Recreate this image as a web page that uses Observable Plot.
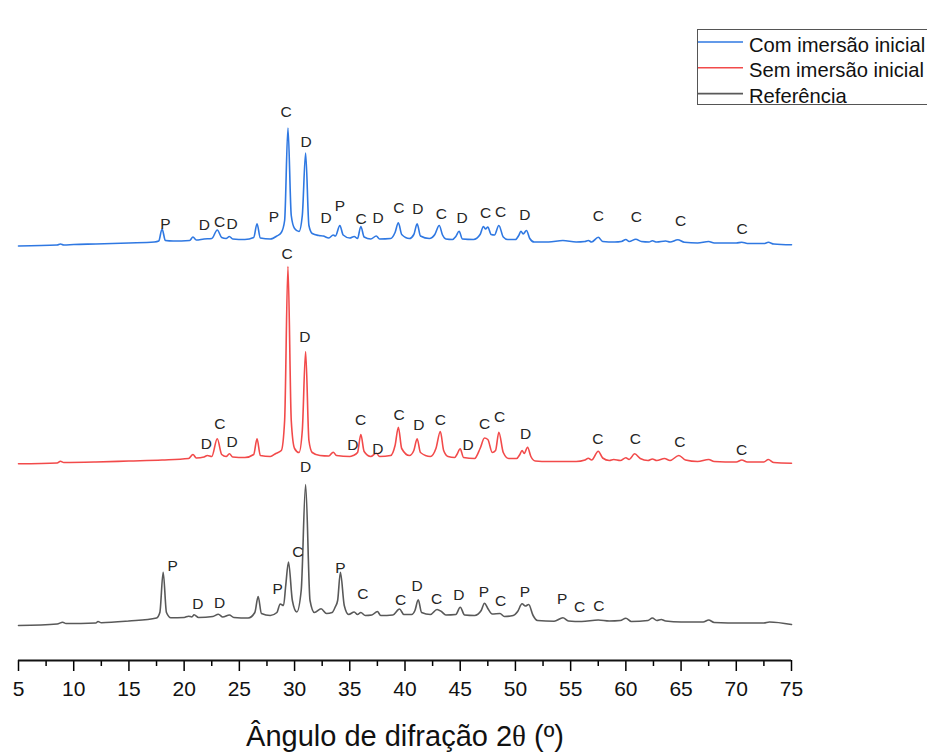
<!DOCTYPE html>
<html>
<head>
<meta charset="utf-8">
<script src="https://cdn.jsdelivr.net/npm/d3@7"></script>
<script src="https://cdn.jsdelivr.net/npm/@observablehq/plot@0.6"></script>
<style>
  html, body { margin: 0; padding: 0; background: #fff; }
  #chart { width: 927px; height: 753px; position: relative; }
</style>
</head>
<body>
<div id="chart"></div>
<script>
// ---------- data (2θ in degrees, intensity in a.u. above each trace's own baseline) ----------
const seriesNames = ["Com imersão inicial", "Sem imersão inicial", "Referência"];
const seriesColors = ["#2f78e2", "#f24a4a", "#595959"];
const seriesOffsets = [414, 196, 34];
const xTicks = [5, 10, 15, 20, 25, 30, 35, 40, 45, 50, 55, 60, 65, 70, 75];
const xMinorTicks = [7.5, 12.5, 17.5, 22.5, 27.5, 32.5, 37.5, 42.5, 47.5, 52.5, 57.5, 62.5, 67.5, 72.5];
const xTitle = ["Ângulo de difração 2", "θ", " (º)"];

const blueTrace = [
  [5,0.5],[8.5,1.5],[8.8,2.5],[9.1,1.5],[10,2],[12,2.5],[15,3.5],[17.3,4.5],[17.7,5.5],[18.0,17.5],[18.3,6],
  [19,5.5],[20.5,6],[20.8,9.5],[21.1,6.5],[21.8,7.5],[22.5,8],[23.0,16.5],[23.4,9],[23.8,8],[24.1,10],[24.4,7.5],
  [25.5,7],[26.3,9],[26.6,22.7],[26.9,8.5],[27.8,7.5],[28.4,10.5],[28.8,14],[29.1,26],[29.4,118.5],[29.7,31],
  [30.0,18],[30.4,15],[30.7,31],[31.0,93.5],[31.3,21],[31.6,13],[32.2,11],[32.6,10.5],[33.1,8.5],[33.5,11.5],
  [33.7,10.5],[34.1,21],[34.4,11.5],[35.0,8.5],[35.4,10],[35.7,8],[36.0,20],[36.3,9.5],[36.9,7.5],[37.4,10.5],
  [37.7,7.5],[38.7,8],[39.1,14],[39.4,23.7],[39.7,12],[40.4,8],[40.8,12],[41.1,22.7],[41.4,10.5],[42.2,8],
  [42.7,12],[43.1,21],[43.4,11.5],[43.7,7.5],[44.3,7],[44.6,10],[44.9,15.3],[45.2,7.5],[46.2,7],[46.8,12],
  [47.1,20],[47.3,17.5],[47.5,19.5],[47.8,12],[48.1,11.5],[48.5,21],[48.9,9.5],[49.3,7],[50.0,7],[50.3,11],
  [50.5,15.3],[50.7,12.5],[51.0,16],[51.3,8],[51.7,4.5],[53,4.5],[54.3,6],[55.5,4.5],[56.3,5],[56.6,6],
  [56.9,4.5],[57.5,9.3],[57.9,5],[59.0,4.5],[59.6,5],[60.0,7],[60.3,5],[60.9,7.3],[61.4,5],[62.1,4.5],
  [62.4,5.7],[62.8,4.5],[63.6,5.5],[64.0,4.5],[64.7,6.7],[65.3,4.2],[66.5,3.5],[67.5,5],[68.0,3.5],[70,3.5],
  [70.5,4.3],[71.0,3],[72.5,3],[72.9,4.2],[73.4,2.5],[75,1.7]
];

const redTrace = [
  [5,0.7],[8.5,1.5],[8.8,3.3],[9.1,2],[12,2.5],[15,3.5],[18,4.5],[20.4,6],[20.8,10],[21.1,6.5],[21.8,7.5],
  [22.1,9],[22.5,8],[23.0,25.7],[23.4,10],[23.8,8],[24.1,10.7],[24.4,7.5],[25.5,7],[26.3,10],[26.6,25.7],
  [26.9,9],[27.8,8],[28.3,11],[28.8,14],[29.1,44],[29.4,198],[29.7,44],[30.0,16],[30.4,12],[30.7,34],
  [31.0,113],[31.3,24],[31.6,12],[32.3,9],[33.1,8.5],[33.5,12.3],[33.8,9],[35.0,8],[35.3,9],[35.7,12],
  [36.0,30],[36.3,13],[36.9,8],[37.4,11.3],[37.7,8],[38.7,9],[39.1,19],[39.4,37.3],[39.7,16],[40.4,9],
  [40.8,14],[41.1,25.7],[41.4,12],[42.3,8],[42.8,16],[43.2,33],[43.5,14],[43.9,8],[44.5,7],[44.7,10],
  [45.0,15.7],[45.3,7],[46.3,6],[46.8,16],[47.2,26.5],[47.5,25],[47.9,12],[48.2,14],[48.5,32.3],[48.9,12],
  [49.4,6],[50.1,6],[50.4,10],[50.6,14],[50.8,11],[51.1,17.3],[51.4,8],[51.8,3.5],[53,3],[55.5,3],
  [56.3,4.5],[56.6,6.3],[56.9,4.5],[57.5,13.3],[57.9,6.5],[58.5,4],[58.9,5],[59.5,4],[60.0,6.7],[60.3,5],
  [60.8,10.7],[61.3,6],[62.0,4],[62.4,5.5],[62.8,4],[63.5,6],[64.0,4],[64.8,9],[65.4,4.5],[66.5,3],
  [67.5,5],[68.0,3],[70.0,2.5],[70.5,4.5],[71.0,2.5],[72.5,2.5],[72.9,5],[73.4,2],[75,1.3]
];

const refTrace = [
  [5,1],[8.5,2.5],[9.0,4.3],[9.3,3],[12,3.5],[12.2,5],[12.5,3.8],[15,5.5],[17.5,8.5],[17.8,14],[18.1,54.3],
  [18.4,14],[18.8,8.7],[20.0,9],[20.4,10.3],[20.7,9.5],[20.9,11.7],[21.3,9],[22.6,10],[23.1,12.3],[23.5,9.5],
  [24.1,11.5],[24.5,9],[25.8,8.5],[26.4,14],[26.7,30],[27.0,13],[27.8,11],[28.4,14],[28.7,22.5],[29.0,21],
  [29.2,41],[29.45,64.5],[29.8,26],[30.2,14.5],[30.6,36],[31.0,142],[31.4,26],[31.8,14],[32.4,17.7],
  [32.9,13],[33.4,14],[33.7,20],[33.9,26],[34.15,54.3],[34.5,21],[34.9,12],[35.4,14.5],[35.7,12],[36.0,14],
  [36.4,11],[37.0,11.5],[37.5,15],[37.8,11],[38.9,11.5],[39.5,17.5],[39.9,12],[40.6,12],[40.9,16],
  [41.2,26.7],[41.5,14],[42.3,12],[42.9,17],[43.3,15],[43.7,11.5],[44.6,12],[45.0,19.3],[45.4,11.5],
  [46.3,11],[46.9,16],[47.2,23.3],[47.5,18],[47.9,12.5],[48.6,13],[49.0,10],[49.8,11],[50.2,15],[50.6,22.7],
  [50.9,20.5],[51.2,22],[51.6,11],[52.0,6],[53.5,5.3],[54.3,8.7],[54.8,5.5],[56.0,5],[57.5,6.5],[58.5,5.5],
  [59.5,6],[60.0,8.3],[60.5,5],[62.0,6],[62.4,8.5],[62.8,6],[63.2,7],[63.6,5.5],[65.0,4.5],[67.0,4.5],
  [67.5,6.5],[68.0,4],[70.5,3.5],[72.5,3.5],[73.0,4.5],[75,2]
];

// phase labels: [letter, 2θ, intensity]
const blueLabels = [
  ["P",18.31,22],["D",21.84,21],["C",23.2,24.3],["D",24.35,22],["P",28.12,29.3],["C",29.24,134.3],
  ["D",31.05,104.3],["D",32.86,28.7],["P",34.1,40],["C",36.03,27.7],["D",37.57,28.7],["C",39.44,38.5],
  ["D",41.16,37.7],["C",43.3,32],["D",45.18,28.7],["C",47.29,33.7],["C",48.65,34.3],["D",50.85,31],
  ["C",57.5,30],["C",60.94,29.3],["C",64.95,25.3],["C",70.53,17.7]
];
const redLabels = [
  ["C",29.33,210.7],["D",30.93,127.3],["D",22.0,20.7],["C",23.23,40.7],["D",24.35,22.3],["D",35.27,19.7],
  ["C",35.97,44.7],["D",37.54,15.7],["C",39.46,49],["D",41.25,39],["C",43.21,44],["D",45.72,19],
  ["C",47.2,40.7],["C",48.56,47.3],["D",50.91,30.7],["C",57.46,25.7],["C",60.87,25],["C",64.88,22.3],
  ["C",70.47,14]
];
const refLabels = [
  ["P",18.95,60],["D",21.24,22.7],["D",23.2,23.3],["P",28.48,37.7],["C",30.29,74.3],["D",30.99,159],
  ["P",34.16,58.7],["C",36.18,32.7],["C",39.59,26],["D",41.1,40],["C",42.85,27.7],["D",44.87,31],
  ["P",47.14,34.3],["C",48.65,25],["P",50.85,34.3],["P",54.24,27.7],["C",55.8,19.3],["C",57.55,20.3]
];

// ---------- build tables ----------
const traces = [blueTrace, redTrace, refTrace];
const labelSets = [blueLabels, redLabels, refLabels];
const lineRows = traces.flatMap((t, i) => t.map(([x, v]) => ({series: seriesNames[i], x, y: v + seriesOffsets[i]})));
const labelRows = labelSets.flatMap((ls, i) => ls.map(([t, x, v]) => ({t, x, y: v + seriesOffsets[i]})));

const FONT = "'Liberation Sans', Arial, Helvetica, sans-serif";

const plot = Plot.plot({
  width: 927,
  height: 753,
  marginLeft: 18,
  marginRight: 136,
  marginTop: 0,
  marginBottom: 93,
  style: {fontFamily: FONT, background: "#fff", overflow: "visible"},
  x: {domain: [5, 75]},
  y: {domain: [0, 660], axis: null},
  color: {domain: seriesNames, range: seriesColors},
  marks: [
    Plot.line(lineRows, {x: "x", y: "y", z: "series", stroke: "series", strokeWidth: 1.6, curve: "monotone-x"}),
    Plot.text(labelRows, {x: "x", y: "y", text: "t", fontSize: 15.5, fill: "#262626", lineAnchor: "middle"}),
    Plot.axisX({ticks: xMinorTicks, tickSize: 6, tickFormat: () => "", strokeWidth: 1.5, label: null}),
    Plot.axisX({ticks: xTicks, tickSize: 11, tickPadding: 10, fontSize: 21, strokeWidth: 1.5, label: null, fill: "#111"}),
    Plot.ruleY([0], {stroke: "#111", strokeWidth: 1.8})
  ]
});

const svg = d3.select(plot);

// axis title
const title = svg.append("text")
  .attr("x", 405).attr("y", 746)
  .attr("text-anchor", "middle")
  .attr("font-family", FONT)
  .attr("font-size", 29)
  .attr("fill", "#111");
title.append("tspan").text(xTitle[0]);
title.append("tspan").attr("font-family", "'Liberation Serif', 'DejaVu Serif', serif").text(xTitle[1]);
title.append("tspan").text(xTitle[2]);

// legend
const lg = svg.append("g").attr("text-anchor", "start");
lg.append("rect").attr("x", 697.5).attr("y", 29.5).attr("width", 240).attr("height", 75)
  .attr("fill", "#fff").attr("stroke", "#555").attr("stroke-width", 1);
seriesNames.forEach((name, i) => {
  const yLine = 42 + i * 25.8;
  lg.append("line").attr("x1", 698).attr("x2", 743).attr("y1", yLine).attr("y2", yLine)
    .attr("stroke", seriesColors[i]).attr("stroke-width", 1.6).style("stroke", seriesColors[i]);
  lg.append("text").attr("x", 749).attr("y", 51.5 + i * 25.8).attr("text-anchor", "start")
    .attr("font-family", FONT).attr("font-size", 20.2).attr("fill", "#111").text(name);
});

document.getElementById("chart").appendChild(plot);
</script>
</body>
</html>
